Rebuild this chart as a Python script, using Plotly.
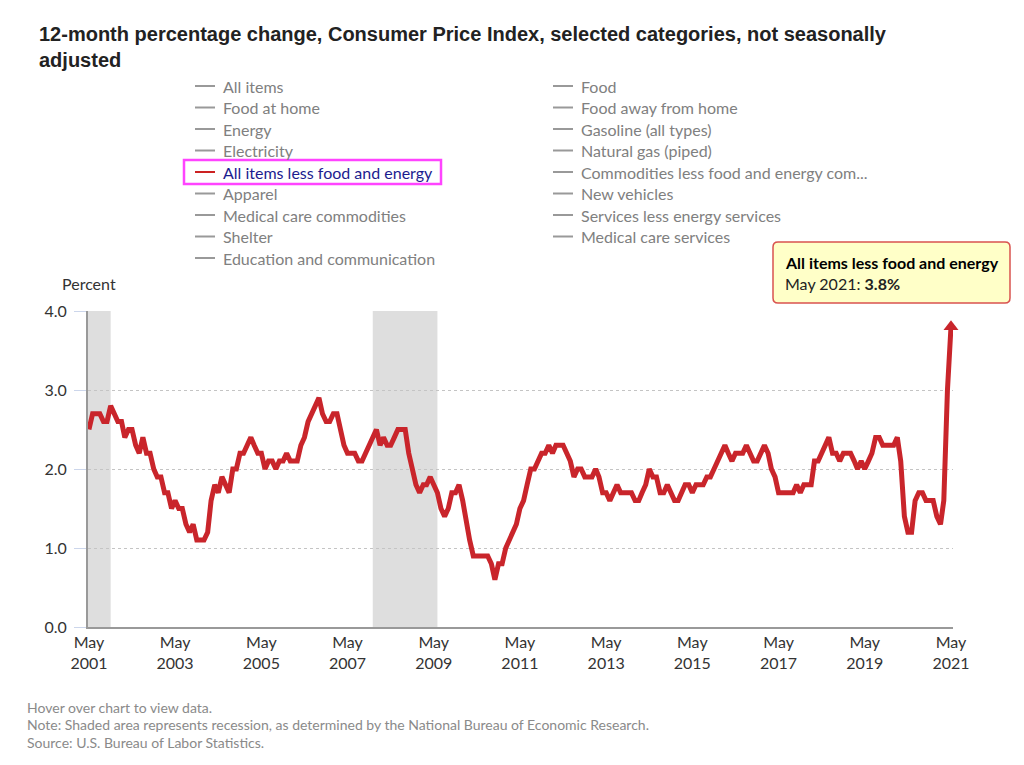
import pandas as pd
import plotly.graph_objects as go

# 12-month % change, all items less food and energy, May 2001 - May 2021
start_month = "2001-05-01"
core_cpi = [
    2.5, 2.7, 2.7, 2.7, 2.6, 2.6, 2.8, 2.7,
    2.6, 2.6, 2.4, 2.5, 2.5, 2.3, 2.2, 2.4, 2.2, 2.2, 2.0, 1.9,
    1.9, 1.7, 1.7, 1.5, 1.6, 1.5, 1.5, 1.3, 1.2, 1.3, 1.1, 1.1,
    1.1, 1.2, 1.6, 1.8, 1.7, 1.9, 1.8, 1.7, 2.0, 2.0, 2.2, 2.2,
    2.3, 2.4, 2.3, 2.2, 2.2, 2.0, 2.1, 2.1, 2.0, 2.1, 2.1, 2.2,
    2.1, 2.1, 2.1, 2.3, 2.4, 2.6, 2.7, 2.8, 2.9, 2.7, 2.6, 2.6,
    2.7, 2.7, 2.5, 2.3, 2.2, 2.2, 2.2, 2.1, 2.1, 2.2, 2.3, 2.4,
    2.5, 2.3, 2.4, 2.3, 2.3, 2.4, 2.5, 2.5, 2.5, 2.2, 2.0, 1.8,
    1.7, 1.8, 1.8, 1.9, 1.8, 1.7, 1.5, 1.4, 1.5, 1.7, 1.7, 1.8,
    1.6, 1.3, 1.1, 0.9, 0.9, 0.9, 0.9, 0.9, 0.8, 0.6, 0.8, 0.8,
    1.0, 1.1, 1.2, 1.3, 1.5, 1.6, 1.8, 2.0, 2.0, 2.1, 2.2, 2.2,
    2.3, 2.2, 2.3, 2.3, 2.3, 2.2, 2.1, 1.9, 2.0, 2.0, 1.9, 1.9,
    1.9, 2.0, 1.9, 1.7, 1.7, 1.6, 1.7, 1.8, 1.7, 1.7, 1.7, 1.7,
    1.6, 1.6, 1.7, 1.8, 2.0, 1.9, 1.9, 1.7, 1.7, 1.8, 1.7, 1.6,
    1.6, 1.7, 1.8, 1.8, 1.7, 1.8, 1.8, 1.8, 1.9, 1.9, 2.0, 2.1,
    2.2, 2.3, 2.2, 2.1, 2.2, 2.2, 2.2, 2.3, 2.2, 2.1, 2.1, 2.2,
    2.3, 2.2, 2.0, 1.9, 1.7, 1.7, 1.7, 1.7, 1.7, 1.8, 1.7, 1.8,
    1.8, 1.8, 2.1, 2.1, 2.2, 2.3, 2.4, 2.2, 2.2, 2.1, 2.2, 2.2,
    2.2, 2.1, 2.0, 2.1, 2.0, 2.1, 2.2, 2.4, 2.4, 2.3, 2.3, 2.3,
    2.3, 2.4, 2.1, 1.4, 1.2, 1.2, 1.6, 1.7, 1.7, 1.6, 1.6, 1.6,
    1.4, 1.3, 1.6, 3.0, 3.8,
]

recessions = [("2001-03-01", "2001-11-01"), ("2007-12-01", "2009-06-01")]

tick_dates = ["2001-05-01", "2003-05-01", "2005-05-01", "2007-05-01", "2009-05-01",
              "2011-05-01", "2013-05-01", "2015-05-01", "2017-05-01", "2019-05-01",
              "2021-05-01"]
tick_text = ["May<br>" + d[:4] for d in tick_dates]
y_ticks = [0, 1, 2, 3, 4]

legend_left = ["All items", "Food at home", "Energy", "Electricity",
               "All items less food and energy", "Apparel", "Medical care commodities",
               "Shelter", "Education and communication"]
legend_right = ["Food", "Food away from home", "Gasoline (all types)", "Natural gas (piped)",
                "Commodities less food and energy com...", "New vehicles",
                "Services less energy services", "Medical care services"]
selected = "All items less food and energy"

RED = "#c9252b"
FONT = "Lato"
X_RANGE = ["2001-04-23", "2021-05-18"]

# page offset (body margin) and plot area in window pixels
OFF = 8
W, H = 1024 - OFF, 765 - OFF
L, R, T, B = 88, 953, 311, 627


def px(x):
    return (x - L) / (R - L)


def py(y):
    return (B - y) / (B - T)


dates = pd.date_range(start_month, periods=len(core_cpi), freq="MS")

fig = go.Figure()
fig.add_trace(go.Scatter(x=dates, y=core_cpi, mode="lines", name=selected,
                         line=dict(color=RED, width=5),
                         hovertemplate="%{x|%b %Y}: <b>%{y:.1f}%</b><extra></extra>"))
fig.add_trace(go.Scatter(x=dates[-1:], y=core_cpi[-1:], mode="markers", showlegend=False,
                         marker=dict(symbol="triangle-up", size=13, color=RED),
                         cliponaxis=False, hoverinfo="skip"))

for r0, r1 in recessions:
    fig.add_shape(type="rect", xref="x", yref="y", x0=max(r0, X_RANGE[0]), x1=r1,
                  y0=0, y1=4, fillcolor="#dedede", line_width=0, layer="below")

annotations = []
shapes = []

# title
annotations.append(dict(x=px(37), y=py(47), xref="paper", yref="paper", xanchor="left",
                        yanchor="middle", align="left", showarrow=False,
                        text="<b>12-month percentage change, Consumer Price Index, selected categories, not seasonally<br>adjusted</b>",
                        font=dict(family="Liberation Sans", size=20, color="#222")))

# legend
row_y = [86, 107.5, 129, 150.5, 172, 193.5, 215, 236.5, 258]
for col, (sx, tx) in zip([legend_left, legend_right], [(195, 221), (553, 579)]):
    for i, name in enumerate(col):
        yy = row_y[i]
        is_sel = name == selected
        shapes.append(dict(type="line", xref="paper", yref="paper", x0=px(sx), x1=px(sx + 20),
                           y0=py(yy), y1=py(yy),
                           line=dict(color="#cc2222" if is_sel else "#999", width=2)))
        annotations.append(dict(x=px(tx), y=py(yy), xref="paper", yref="paper", xanchor="left",
                                yanchor="middle", showarrow=False, text=name,
                                font=dict(family=FONT, size=16,
                                          color="#1c1c8f" if is_sel else "#808080")))
shapes.append(dict(type="rect", xref="paper", yref="paper", x0=px(184), x1=px(441),
                   y0=py(184), y1=py(160), line=dict(color="#ff44ff", width=2.5)))

# y axis title
annotations.append(dict(x=px(60), y=py(283), xref="paper", yref="paper", xanchor="left",
                        yanchor="middle", showarrow=False, text="Percent",
                        font=dict(family=FONT, size=16, color="#333")))

# tooltip box
x0, x1, y0, y1 = px(773), px(1010), py(242), py(303)
dx, dy = 5 / (R - L), 5 / (B - T)
path = (f"M {x0 + dx},{y0} L {x1 - dx},{y0} Q {x1},{y0} {x1},{y0 - dy} "
        f"L {x1},{y1 + dy} Q {x1},{y1} {x1 - dx},{y1} L {x0 + dx},{y1} "
        f"Q {x0},{y1} {x0},{y1 + dy} L {x0},{y0 - dy} Q {x0},{y0} {x0 + dx},{y0} Z")
shapes.append(dict(type="path", xref="paper", yref="paper", path=path,
                   fillcolor="#ffffc8", line=dict(color="#d9534f", width=1.5)))
annotations.append(dict(x=px(783), y=py(262), xref="paper", yref="paper", xanchor="left",
                        yanchor="middle", showarrow=False,
                        text="<b>All items less food and energy</b>",
                        font=dict(family=FONT, size=16, color="#000")))
annotations.append(dict(x=px(783), y=py(283), xref="paper", yref="paper", xanchor="left",
                        yanchor="middle", showarrow=False,
                        text=f"May 2021: <b>{core_cpi[-1]:.1f}%</b>",
                        font=dict(family=FONT, size=16, color="#222")))

# footer
footer = ["Hover over chart to view data.",
          "Note: Shaded area represents recession, as determined by the National Bureau of Economic Research.",
          "Source: U.S. Bureau of Labor Statistics."]
for i, line in enumerate(footer):
    annotations.append(dict(x=px(25), y=py(707 + i * 17.5), xref="paper", yref="paper",
                            xanchor="left", yanchor="middle", showarrow=False, text=line,
                            font=dict(family=FONT, size=14, color="#8a8a8a")))

fig.update_layout(
    width=W, height=H,
    margin=dict(l=L - OFF, r=W - (R - OFF), t=T - OFF, b=H - (B - OFF)),
    paper_bgcolor="white", plot_bgcolor="white",
    showlegend=False,
    shapes=fig.layout.shapes + tuple(shapes),
    annotations=annotations,
    font=dict(family=FONT, size=15, color="#333"),
    xaxis=dict(range=X_RANGE, tickvals=tick_dates, ticktext=tick_text,
               showgrid=False, showline=True, linecolor="#999", linewidth=2, ticks="",
               tickfont=dict(family=FONT, size=16, color="#333")),
    yaxis=dict(range=[0, 4], tickvals=y_ticks, tickformat=".1f", showgrid=True,
               gridcolor="#c4c4c4", griddash="dot", gridwidth=1, zeroline=False,
               showline=True, linecolor="#999", linewidth=2, ticks="outside", ticklen=12,
               tickcolor="#ccd6eb", ticklabelstandoff=4,
               tickfont=dict(family=FONT, size=16, color="#333")),
)

fig.write_html("out.html")
